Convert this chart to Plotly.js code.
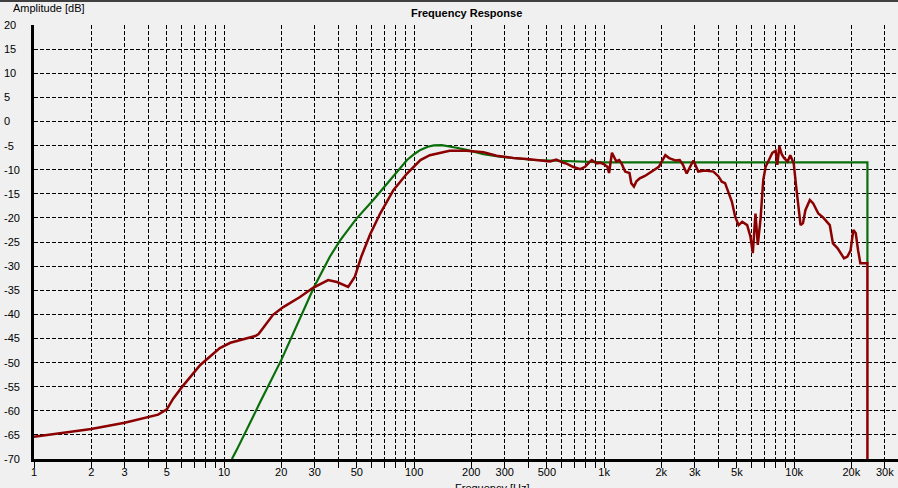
<!DOCTYPE html>
<html>
<head>
<meta charset="utf-8">
<script src="https://cdn.plot.ly/plotly-3.0.1.min.js"></script>
<style>
  html, body { margin: 0; padding: 0; background: #f0f0f0; }
  #wrap { position: relative; width: 898px; height: 488px; overflow: hidden; }
  #chart { width: 898px; height: 488px; }
  #topbar { position: absolute; left: 0; top: 0; width: 898px; height: 2px; background: #404040; }
</style>
</head>
<body>
<div id="wrap"><div id="chart"></div><div id="topbar"></div></div>
<script>
// ---- data ----
const targetFreq = [11.0, 11.7, 15.5, 20, 29.8, 36.1, 40.9, 49.9, 61, 74.8, 84, 91.8, 100, 108, 118, 127, 140, 151, 170, 189, 232, 282, 347, 425, 520, 690, 1000, 24300, 24300];
const targetDb   = [-70, -68.0, -58.2, -49.5, -34.3, -28.0, -24.6, -20.1, -16.3, -12.1, -9.6, -8.0, -6.8, -5.9, -5.25, -4.95, -4.9, -5.1, -5.5, -5.9, -6.8, -7.3, -7.6, -8.0, -8.1, -8.3, -8.5, -8.5, -29.4];

const measFreq = [1, 1.21, 1.5, 2, 3, 4, 4.5, 5, 5.4, 6, 7.5, 9.5, 10.8, 14.6, 15.2, 18.1, 20.5, 25.1, 29.4, 35.3, 39.3, 45, 48.8, 52.8, 58.6, 66.3, 78, 91.8, 99, 108, 121, 142, 154, 189, 232, 272, 333, 392, 460, 520, 560, 582, 610, 632, 685, 748, 794, 830, 861, 890, 916, 953, 1000, 1040, 1062, 1100, 1160, 1200, 1235, 1290, 1360, 1390, 1435, 1480, 1540, 1640, 1747, 1850, 1940, 2100, 2200, 2370, 2500, 2600, 2720, 2950, 3130, 3390, 3760, 4000, 4160, 4330, 4520, 4700, 4900, 5100, 5330, 5660, 5890, 6060, 6260, 6440, 6660, 6880, 7080, 7370, 7680, 7990, 8160, 8360, 8600, 8860, 9240, 9540, 9950, 10250, 10550, 10810, 11130, 11460, 12100, 12600, 13400, 14200, 15400, 16000, 16940, 18300, 19070, 19800, 20500, 21100, 21700, 22300, 24300, 24300];
const measDb   = [-65.4, -65.0, -64.5, -63.8, -62.5, -61.4, -60.8, -59.7, -57.5, -55.1, -50.5, -47.0, -45.9, -44.5, -44.1, -40.1, -38.5, -36.4, -34.5, -32.9, -33.3, -34.3, -32.2, -28.0, -23.5, -19.1, -14.2, -10.8, -9.4, -8.0, -7.0, -6.3, -6.1, -6.1, -6.4, -7.1, -7.6, -7.8, -8.0, -8.3, -7.9, -8.2, -8.6, -8.7, -9.4, -9.9, -9.4, -8.6, -8.0, -8.4, -8.7, -8.55, -8.9, -9.4, -10.7, -6.5, -8.3, -8.0, -8.7, -10.4, -10.7, -12.8, -13.5, -12.4, -11.8, -11.3, -10.6, -10.0, -9.4, -7.0, -7.6, -8.1, -8.0, -9.0, -10.8, -8.1, -10.4, -10.2, -10.4, -11.4, -12.5, -12.8, -14.6, -16.6, -19.8, -21.5, -20.8, -21.5, -23.9, -27.3, -19.1, -25.6, -20.1, -12.1, -9.4, -8.0, -6.5, -6.1, -9.0, -5.1, -6.8, -7.6, -8.3, -7.0, -8.7, -13.5, -17.7, -21.5, -21.1, -18.4, -16.3, -17.0, -19.1, -19.9, -21.5, -25.3, -26.3, -28.4, -28.0, -26.8, -22.5, -23.2, -26.7, -29.4, -29.4, -70];

const xTickVals = [1,2,3,4,5,6,7,8,9,10,20,30,40,50,60,70,80,90,100,200,300,400,500,600,700,800,900,1000,2000,3000,4000,5000,6000,7000,8000,9000,10000,20000,30000];
const xTickText = ['1','2','3','','5','','','','','10','20','30','','50','','','','','100','200','300','','500','','','','','1k','2k','3k','','5k','','','','','10k','20k','30k'];
const yTickVals = [20,15,10,5,0,-5,-10,-15,-20,-25,-30,-35,-40,-45,-50,-55,-60,-65,-70];

const chartTitle = 'Frequency Response';
const yTitle = 'Amplitude [dB]';
const xTitle = 'Frequency [Hz]';

// ---- chart ----
const FONT = 'Liberation Sans, Arial, sans-serif';
const traces = [
  { x: targetFreq, y: targetDb, type: 'scatter', mode: 'lines',
    line: { color: '#0a6e0a', width: 2.2 }, hoverinfo: 'skip' },
  { x: measFreq, y: measDb, type: 'scatter', mode: 'lines',
    line: { color: '#8b0000', width: 2.5 }, hoverinfo: 'skip' }
];

const annotations = yTickVals.map(v => ({
  text: String(v), xref: 'paper', yref: 'y', x: 0, y: v,
  xanchor: 'left', yanchor: 'middle', xshift: -32, showarrow: false,
  font: { family: FONT, size: 11, color: '#000' }
}));
annotations.push({
  text: yTitle, xref: 'paper', yref: 'paper', x: 0, y: 1,
  xanchor: 'left', yanchor: 'middle', xshift: -23, yshift: 17, showarrow: false,
  font: { family: FONT, size: 11, color: '#000' }
});
annotations.push({
  text: '<b>' + chartTitle + '</b>', xref: 'paper', yref: 'paper', x: 0.5, y: 1,
  xanchor: 'center', yanchor: 'middle', xshift: 0, yshift: 12, showarrow: false,
  font: { family: FONT, size: 11, color: '#000' }
});
annotations.push({
  text: xTitle, xref: 'paper', yref: 'paper', x: 0.531, y: 0,
  xanchor: 'center', yanchor: 'top', yshift: -21, showarrow: false,
  font: { family: FONT, size: 11, color: '#000' }
});

const layout = {
  width: 898, height: 488,
  margin: { l: 34, r: 0, t: 25, b: 29, pad: 0 },
  paper_bgcolor: '#f0f0f0', plot_bgcolor: '#f0f0f0',
  showlegend: false,
  xaxis: {
    type: 'log', range: [0, Math.log10(35200)],
    tickmode: 'array', tickvals: xTickVals, ticktext: xTickText,
    showgrid: true, gridcolor: '#000', gridwidth: 1, griddash: '4px,2px',
    showline: true, linecolor: '#000', linewidth: 3,
    ticks: 'outside', ticklen: 6, tickcolor: '#000', tickwidth: 1,
    ticklabelstandoff: -5,
    tickfont: { family: FONT, size: 11, color: '#000' },
    zeroline: false, fixedrange: true
  },
  yaxis: {
    range: [-70, 20], tickmode: 'array', tickvals: yTickVals,
    showticklabels: false,
    showgrid: true, gridcolor: '#000', gridwidth: 1, griddash: '4px,2px',
    showline: true, linecolor: '#000', linewidth: 3,
    ticks: '', zeroline: false, fixedrange: true
  },
  annotations: annotations
};

Plotly.newPlot('chart', traces, layout, { staticPlot: true, displayModeBar: false });
</script>
</body>
</html>
